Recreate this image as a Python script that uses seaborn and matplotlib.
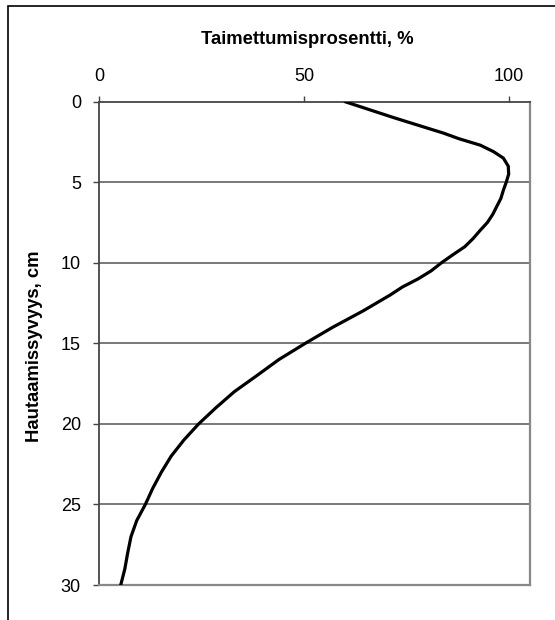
import matplotlib
matplotlib.use("Agg")
import matplotlib.pyplot as plt
import seaborn as sns
import pandas as pd
from matplotlib.patches import Rectangle

# Data
depth_cm = [0, 1, 1.95, 2.3, 2.7, 3.1, 3.5, 4.0, 4.5, 5, 5.5, 6, 6.5, 7, 7.5, 8,
            8.5, 9, 9.5, 10, 10.5, 11, 11.5, 12, 13, 14, 15, 16, 17, 18, 19,
            20, 21, 22, 23, 24, 25, 26, 27, 28, 29, 30]
emergence_pct = [60, 72, 84, 87.8, 93, 96.2, 98.6, 99.8, 99.9, 99.3, 98.6, 98.0,
                 97.0, 96.0, 94.7, 92.9, 91.2, 89.2, 86.3, 83.5, 81.0, 77.8,
                 74.0, 71.0, 64.3, 57.0, 50.3, 43.9, 38.5, 33.0, 28.5, 24.3,
                 20.7, 17.6, 15.2, 13.1, 11.3, 9.2, 7.8, 7.0, 6.3, 5.3]
x_ticks = [0, 50, 100]
y_ticks = [0, 5, 10, 15, 20, 25, 30]
x_title = "Taimettumisprosentti, %"
y_title = "Hautaamissyvyys, cm"

df = pd.DataFrame({"depth": depth_cm, "pct": emergence_pct})

sns.set_theme(style="white")
plt.rcParams["font.family"] = ["Liberation Sans", "DejaVu Sans"]

W, H = 555, 620
fig = plt.figure(figsize=(W / 100, H / 100), dpi=100)
fig.patch.set_facecolor("white")

# outer chart frame (cut at right and bottom)
fig.patches.append(Rectangle((8 / W, -0.1), 1.2, 1 - 6 / H + 0.1,
                             transform=fig.transFigure, fill=False,
                             edgecolor="black", linewidth=1.2, zorder=0))

left, right, top, bottom = 99, 530, 101.7, 585
ax = fig.add_axes([left / W, 1 - bottom / H, (right - left) / W, (bottom - top) / H])
ax.set_facecolor("white")

sns.lineplot(data=df, x="pct", y="depth", sort=False, estimator=None,
             color="black", linewidth=2.3, ax=ax, zorder=5)

ax.set_xlim(0, 105.1)
ax.set_ylim(30, 0)
ax.set_xticks(x_ticks)
ax.set_yticks(y_ticks)
ax.xaxis.tick_top()
ax.set_xlabel("")
ax.set_ylabel("")

for y in y_ticks[1:-1]:
    ax.axhline(y, color="#555555", linewidth=1.1, zorder=1)

for s in ["top", "left"]:
    ax.spines[s].set_color("#444444")
    ax.spines[s].set_linewidth(1.3)
for s in ["right", "bottom"]:
    ax.spines[s].set_color("#888888")
    ax.spines[s].set_linewidth(1.6)

ax.tick_params(axis="x", top=True, bottom=False, direction="out", length=4,
               width=1, color="#444444", labelsize=13, pad=8, labelcolor="black")
ax.tick_params(axis="y", left=True, direction="out", length=4, width=1,
               color="#444444", labelsize=13, pad=9, labelcolor="black")

fig.text(307.5 / W, 1 - 40 / H, x_title, ha="center", va="center",
         fontsize=13.3, fontweight="bold", color="black")
fig.text(35 / W, 1 - 346 / H, y_title, ha="center", va="center", rotation=90,
         fontsize=13.3, fontweight="bold", color="black")

fig.savefig("out.png", dpi=100, facecolor="white")
